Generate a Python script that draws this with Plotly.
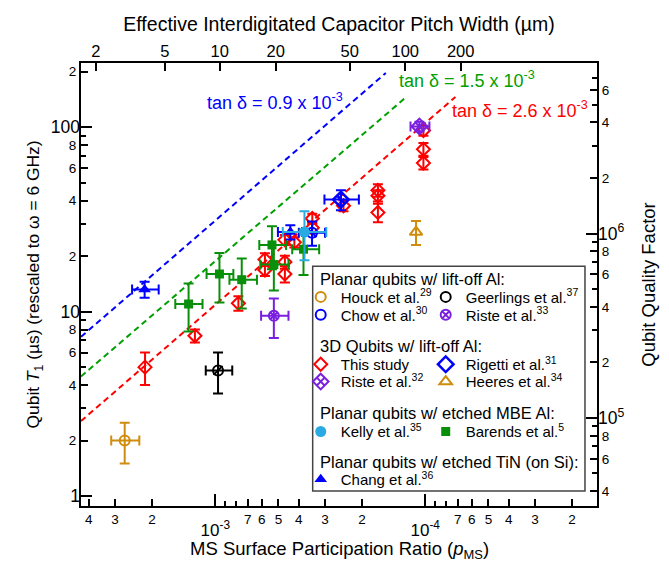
import math
import plotly.graph_objects as go

# ---------------- axis extents ----------------
P_MS_LIMITS = [4.36e-3, 1.52e-5]      # left edge, right edge (axis reversed)
T1_LIMITS = [0.883, 223.0]            # µs
Q_PER_US = 2 * math.pi * 6e9 * 1e-6   # Q = omega * T1, omega = 2*pi*6 GHz

# top axis: effective IDC pitch width vs. participation ratio
pitch_width_um = [2, 5, 10, 20, 50, 100, 200]
pitch_p_ms = [3.71e-3, 1.74e-3, 9.52e-4, 5.15e-4, 2.29e-4, 1.245e-4, 6.78e-5]

# bottom axis ticks
p_small_ticks = [4e-3, 3e-3, 2e-3, 7e-4, 6e-4, 5e-4, 4e-4, 3e-4, 2e-4,
                 7e-5, 6e-5, 5e-5, 4e-5, 3e-5, 2e-5]
p_small_text = ["4", "3", "2", "7", "6", "5", "4", "3", "2",
                "7", "6", "5", "4", "3", "2"]
p_minor_ticks = [9e-4, 8e-4, 9e-5, 8e-5]
p_decades = [1e-3, 1e-4]
p_decade_text = ["10<sup>-3</sup>", "10<sup>-4</sup>"]

# left axis ticks
t1_small_ticks = [2, 4, 6, 8, 20, 40, 60, 80, 200]
t1_small_text = ["2", "4", "6", "8", "2", "4", "6", "8", "2"]
t1_minor_ticks = [3, 5, 7, 9, 30, 50, 70, 90]
t1_decades = [1, 10, 100]
t1_decade_text = ["1", "10", "100"]

# right axis ticks
q_small_ticks = [4e4, 6e4, 8e4, 2e5, 4e5, 6e5, 8e5, 2e6, 4e6, 6e6]
q_small_text = ["4", "6", "8", "2", "4", "6", "8", "2", "4", "6"]
q_minor_ticks = [5e4, 7e4, 9e4, 3e5, 5e5, 7e5, 9e5, 3e6, 5e6, 7e6]
q_decades = [1e5, 1e6]
q_decade_text = ["10<sup>5</sup>", "10<sup>6</sup>"]

# loss-tangent guide lines (end points)
tand_labels = ["tan δ = 0.9 x 10<sup>-3</sup>", "tan δ = 1.5 x 10<sup>-3</sup>",
               "tan δ = 2.6 x 10<sup>-3</sup>"]
tand_p = [[4.36e-3, 1.54e-4], [4.36e-3, 1.256e-4], [4.36e-3, 7.18e-5]]
tand_t1 = [[7.3, 197.0], [4.45, 143.0], [2.55, 146.0]]
tand_colors = ["#0000FF", "#00A000", "#FF0000"]

# ---------------- data series ----------------
houck_p = [2.70e-3]; houck_t1 = [2.0]
houck_p_lo = [2.30e-3]; houck_p_hi = [3.13e-3]; houck_err = [0.5]

geer_p = [9.7e-4]; geer_t1 = [4.8]
geer_p_lo = [8.3e-4]; geer_p_hi = [1.11e-3]; geer_err = [1.2]

chow_p = [3.46e-4]; chow_t1 = [26.8]
chow_p_lo = [3.0e-4]; chow_p_hi = [4.0e-4]; chow_err = [4.0]

riste33_p = [5.26e-4]; riste33_t1 = [9.5]
riste33_p_lo = [4.48e-4]; riste33_p_hi = [6.05e-4]; riste33_err = [2.3]

study_p = [2.16e-3, 1.25e-3, 7.76e-4, 5.8e-4, 5.8e-4, 4.66e-4, 4.66e-4, 4.66e-4,
           4.2e-4, 3.45e-4, 3.45e-4, 2.45e-4, 1.68e-4, 1.68e-4, 1.68e-4,
           1.02e-4, 1.02e-4, 1.02e-4]
study_t1 = [5.0, 7.4, 11.1, 19.2, 16.8, 18.6, 16.0, 24.5, 23.8, 32.0, 28.5, 37.5,
            45.5, 42.5, 34.5, 96.0, 76.0, 64.0]
study_err = [1.0, 0.6, 1.0, 1.5, 1.2, 1.5, 1.6, 1.5, 1.5, 2.0, 2.0, 2.5,
             3.5, 3.0, 4.0, 6.0, 6.0, 5.0]

rig_p = [2.52e-4]; rig_t1 = [40.5]
rig_p_lo = [2.07e-4]; rig_p_hi = [3.02e-4]; rig_err = [5.0]

riste32_p = [1.066e-4]; riste32_t1 = [101.0]
riste32_p_lo = [9.55e-5]; riste32_p_hi = [1.175e-4]; riste32_err = [6.0]

heeres_p = [1.106e-4]; heeres_t1 = [27.0]; heeres_err = [4.0]

kelly_p = [3.76e-4]; kelly_t1 = [27.0]
kelly_p_lo = [2.96e-4]; kelly_p_hi = [4.77e-4]; kelly_err = [8.0]

barends_p = [1.34e-3, 9.55e-4, 7.48e-4, 5.37e-4, 5.26e-4, 3.8e-4]
barends_t1 = [11.0, 16.0, 14.9, 23.0, 18.0, 21.8]
barends_p_lo = [1.15e-3, 8.2e-4, 6.33e-4, 4.6e-4, 4.48e-4, 3.2e-4]
barends_p_hi = [1.55e-3, 1.10e-3, 8.56e-4, 6.17e-4, 6.10e-4, 4.3e-4]
barends_err = [3.2, 4.8, 4.5, 6.0, 5.0, 6.0]

chang_p = [2.17e-3, 4.39e-4]; chang_t1 = [13.2, 27.0]
chang_p_lo = [1.86e-3, 3.86e-4]; chang_p_hi = [2.49e-3, 5.03e-4]; chang_err = [1.3, 2.4]

FONT = "Liberation Sans"
ORANGE = "#D08C0C"
PURPLE = "#7A1FE0"
BLUE = "#0000FF"
RED = "#FF0000"
GREEN = "#0A8F0A"
LIGHTBLUE = "#2AAAE2"

fig = go.Figure()

# guide lines
for lab, px, ty, col in zip(tand_labels, tand_p, tand_t1, tand_colors):
    fig.add_trace(go.Scatter(x=px, y=ty, mode="lines", showlegend=False,
                             line=dict(color=col, width=2, dash="6px,4px"),
                             hoverinfo="skip"))


def xerr(p, lo, hi, col):
    return dict(type="data", symmetric=False,
                array=[h - v for v, h in zip(p, hi)],
                arrayminus=[v - l for v, l in zip(p, lo)],
                color=col, thickness=2, width=5)


def yerr(e, col):
    return dict(type="data", array=e, color=col, thickness=2, width=5)


def add(name, p, t, col, symbol, size, legend, p_lo=None, p_hi=None, err=None,
        lw=2, show=True, rank=1, lwidth=None):
    fig.add_trace(go.Scatter(
        x=p, y=t, mode="markers", name=name, legend=legend, showlegend=show,
        legendrank=rank,
        legendwidth=lwidth if lwidth else (80 if rank == 1 else 125),
        marker=dict(symbol=symbol, size=size, color=col,
                    line=dict(color=col, width=lw)),
        error_x=xerr(p, p_lo, p_hi, col) if p_lo is not None else None,
        error_y=yerr(err, col) if err is not None else None,
    ))


add("This study", study_p, study_t1, RED, "diamond-open", 10, "legend3",
    err=study_err, rank=1)
add("Heeres et al.<sup>34</sup>", heeres_p, heeres_t1, ORANGE, "triangle-up-open", 11,
    "legend4", err=heeres_err, rank=2)
add("Riste et al.<sup>32</sup>", riste32_p, riste32_t1, PURPLE, "diamond-x-open", 12,
    "legend4", riste32_p_lo, riste32_p_hi, riste32_err, rank=1)
add("Rigetti et al.<sup>31</sup>", rig_p, rig_t1, BLUE, "diamond-open", 12, "legend3",
    rig_p_lo, rig_p_hi, rig_err, lw=2.5, rank=2)
add("rig_overlay", rig_p, rig_t1, BLUE, "line-nw-open", 8, "legend3", lw=2.5,
    show=False, rank=3)
add("Houck et al.<sup>29</sup>", houck_p, houck_t1, ORANGE, "circle-open", 10, "legend",
    houck_p_lo, houck_p_hi, houck_err, rank=1)
add("Geerlings et al.<sup>37</sup>", geer_p, geer_t1, "#000000", "circle-open", 10,
    "legend", geer_p_lo, geer_p_hi, geer_err, rank=2)
add("geer_overlay", geer_p, geer_t1, "#000000", "line-ne-open", 9, "legend",
    show=False, rank=3)
add("Riste et al.<sup>33</sup>", riste33_p, riste33_t1, PURPLE, "circle-x-open", 10,
    "legend2", riste33_p_lo, riste33_p_hi, riste33_err, rank=2)
add("Chow et al.<sup>30</sup>", chow_p, chow_t1, BLUE, "circle-open", 10, "legend2",
    chow_p_lo, chow_p_hi, chow_err, rank=1)
add("chow_overlay", chow_p, chow_t1, BLUE, "line-nw-open", 9, "legend2",
    show=False, rank=3)
add("Barends et al.<sup>5</sup>", barends_p, barends_t1, GREEN, "square", 9, "legend5",
    barends_p_lo, barends_p_hi, barends_err, lw=0, rank=2)
add("Chang et al.<sup>36</sup>", chang_p, chang_t1, BLUE, "triangle-up", 11, "legend6",
    chang_p_lo, chang_p_hi, chang_err, lw=0, rank=1, lwidth=110)
add("Kelly et al.<sup>35</sup>", kelly_p, kelly_t1, LIGHTBLUE, "circle", 11, "legend5",
    kelly_p_lo, kelly_p_hi, kelly_err, lw=0, rank=1)

# empty traces so the overlay axes exist
fig.add_trace(go.Scatter(x=[], y=[], xaxis="x2", yaxis="y2", showlegend=False))
fig.add_trace(go.Scatter(x=[], y=[], xaxis="x3", yaxis="y3", showlegend=False))
fig.add_trace(go.Scatter(x=[], y=[], xaxis="x", yaxis="y4", showlegend=False))

xr = [math.log10(P_MS_LIMITS[0]), math.log10(P_MS_LIMITS[1])]
yr = [math.log10(T1_LIMITS[0]), math.log10(T1_LIMITS[1])]
qr = [math.log10(T1_LIMITS[0] * Q_PER_US), math.log10(T1_LIMITS[1] * Q_PER_US)]

common = dict(type="log", showgrid=False, zeroline=False, ticks="inside",
              tickcolor="black", tickwidth=1.5)
small_font = dict(family=FONT, size=13.5, color="black")
big_font = dict(family=FONT, size=17.5, color="black")

# one legend per legend row
legend_names = ["legend", "legend2", "legend3", "legend4", "legend5", "legend6"]
rows_y = [0.4715, 0.4309, 0.3194, 0.2804, 0.1676, 0.0600]
layout_legends = {}
for nm, ry in zip(legend_names, rows_y):
    layout_legends[nm] = dict(
        x=0.4258, y=ry, xanchor="left", yanchor="middle",
        orientation="h", entrywidthmode="pixels",
        bgcolor="rgba(0,0,0,0)", borderwidth=0, traceorder="normal",
        font=dict(family=FONT, size=15, color="black"), itemclick=False)

headers = ["Planar qubits w/ lift-off Al:", "3D Qubits w/ lift-off Al:",
           "Planar qubits w/ etched MBE Al:", "Planar qubits w/ etched TiN (on Si):"]
headers_y = [0.5134, 0.3609, 0.2105, 0.0999]

annotations = []
for h, hy in zip(headers, headers_y):
    annotations.append(dict(xref="paper", yref="paper", x=0.4587, y=hy,
                            xanchor="left", yanchor="middle", text=h, showarrow=False,
                            font=dict(family=FONT, size=16.5, color="black")))
tand_pos = [(0.375, 0.912), (0.749, 0.963), (0.850, 0.894)]
for lab, (ax_, ay_), col in zip(tand_labels, tand_pos, tand_colors):
    annotations.append(dict(xref="paper", yref="paper", x=ax_, y=ay_, text=lab,
                            showarrow=False, xanchor="center", yanchor="middle",
                            font=dict(family=FONT, size=18, color=col)))
annotations.append(dict(xref="paper", yref="paper", x=0.5, y=-0.099,
                        xanchor="center", yanchor="middle", showarrow=False,
                        text="MS Surface Participation Ratio (<i>p</i><sub>MS</sub>)",
                        font=dict(family=FONT, size=18.5, color="black")))

fig.update_layout(
    width=669, height=561,
    margin=dict(l=73, r=80, t=55, b=63, autoexpand=False),
    paper_bgcolor="white", plot_bgcolor="white",
    font=dict(family=FONT, color="black"),
    xaxis=dict(**common, range=xr, showline=True, linecolor="black", linewidth=2,
               tickvals=p_small_ticks, ticktext=p_small_text, ticklen=7,
               tickfont=small_font,
               minor=dict(tickvals=p_minor_ticks, ticks="inside", ticklen=5,
                          tickcolor="black", tickwidth=1.5)),
    xaxis3=dict(**common, range=xr, overlaying="x", side="bottom", anchor="y",
                tickvals=p_decades, ticktext=p_decade_text, ticklen=12,
                tickfont=dict(family=FONT, size=17, color="black"),
                ticklabelstandoff=12, showline=False),
    xaxis2=dict(**common, range=xr, overlaying="x", side="top", anchor="y",
                tickvals=pitch_p_ms, ticktext=[str(w) for w in pitch_width_um],
                ticklen=8, tickfont=dict(family=FONT, size=16.5, color="black"),
                ticklabelstandoff=-3,
                showline=True, linecolor="black", linewidth=2,
                title=dict(text="Effective Interdigitated Capacitor Pitch Width (µm)",
                           font=dict(family=FONT, size=19.5, color="black"), standoff=6)),
    yaxis=dict(**common, range=yr, showline=True, linecolor="black", linewidth=2,
               tickvals=t1_small_ticks, ticktext=t1_small_text, ticklen=7,
               tickfont=small_font,
               minor=dict(tickvals=t1_minor_ticks, ticks="inside", ticklen=5,
                          tickcolor="black", tickwidth=1.5)),
    yaxis3=dict(**common, range=yr, overlaying="y", side="left", anchor="x",
                tickvals=t1_decades, ticktext=t1_decade_text, ticklen=11,
                tickfont=big_font, showline=False,
                title=dict(text="Qubit <i>T</i><sub>1</sub> (µs) (rescaled to ω = 6 GHz)",
                           font=dict(family=FONT, size=17.4, color="black"), standoff=6)),
    yaxis2=dict(**common, range=qr, overlaying="y", side="right", anchor="x",
                tickvals=q_small_ticks, ticktext=q_small_text, ticklen=7,
                tickfont=small_font, showline=True, linecolor="black", linewidth=2,
                minor=dict(tickvals=q_minor_ticks, ticks="inside", ticklen=5,
                           tickcolor="black", tickwidth=1.5)),
    yaxis4=dict(**common, range=qr, overlaying="y", side="right", anchor="x",
                tickvals=q_decades, ticktext=q_decade_text, ticklen=11,
                tickfont=big_font, showline=False,
                title=dict(text="Qubit Quality Factor",
                           font=dict(family=FONT, size=18.5, color="black"), standoff=18)),
    annotations=annotations,
    shapes=[dict(type="rect", xref="paper", yref="paper", x0=0.449, x1=0.9767,
                 y0=0.0338, y1=0.5414, line=dict(color="#444444", width=1.5),
                 fillcolor="white", layer="below")],
    **layout_legends,
)

fig.write_html("out.html")
